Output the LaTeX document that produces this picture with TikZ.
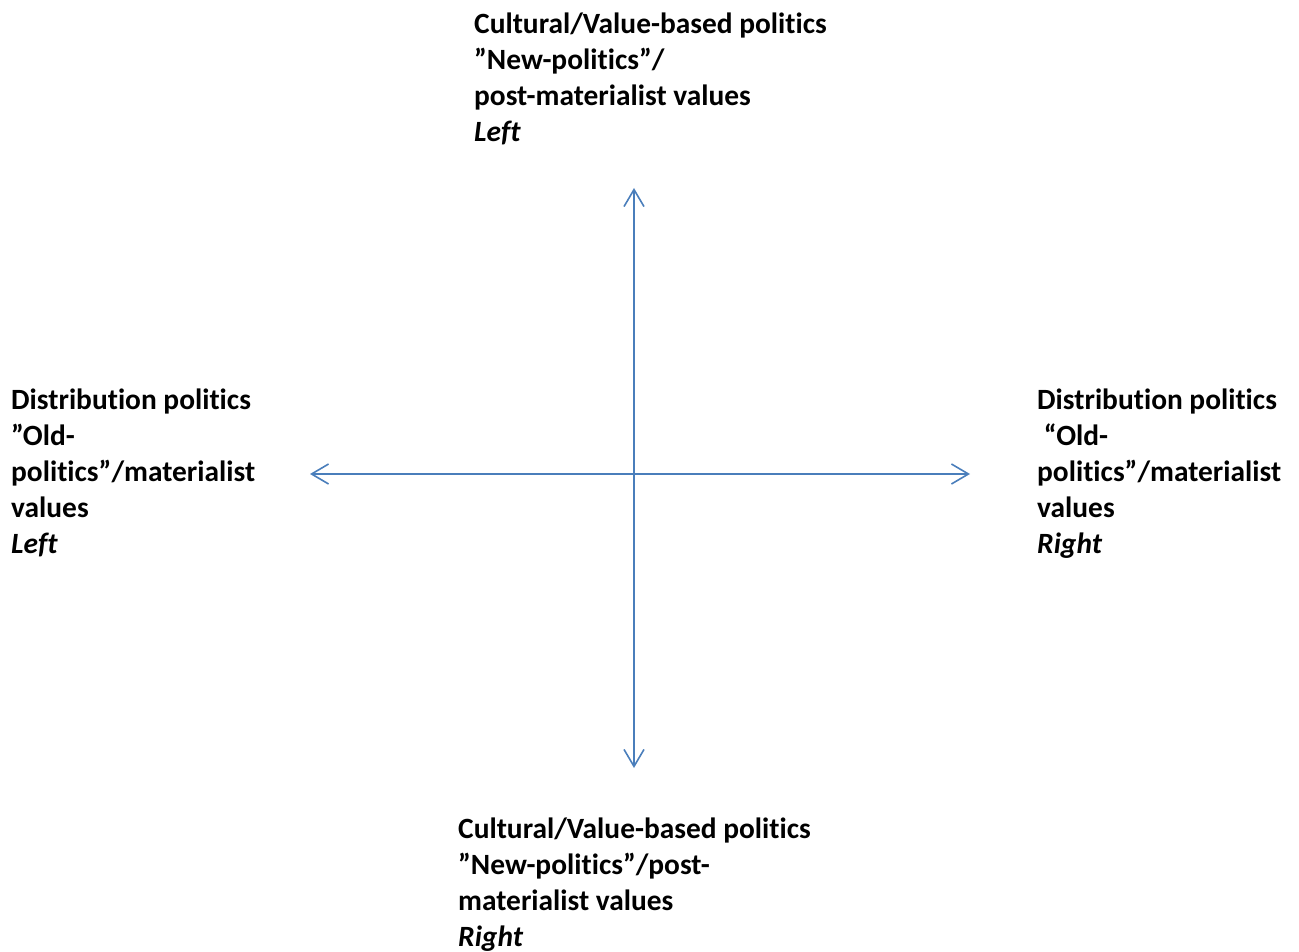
\documentclass[tikz,border=0pt]{standalone}
\usepackage{fontspec}
\setmainfont{Carlito}[Ligatures={NoCommon}]
\usetikzlibrary{arrows.meta}
\definecolor{axisblue}{HTML}{4A7EBB}
\begin{document}
\begin{tikzpicture}[x=1pt,y=-1pt,
  lbl/.style={anchor=base west, align=left, inner sep=0pt,
    font=\fontsize{29.4}{36}\selectfont\bfseries},
  axis/.style={draw=axisblue, line width=1.6pt,
    {Straight Barb[length=17pt,width=20pt,line width=1.6pt]}-{Straight Barb[length=17pt,width=20pt,line width=1.6pt]}}]
\useasboundingbox (0,0) rectangle (1299,952);
\coordinate (top) at (634,188);
\coordinate (bot) at (634,768);
\coordinate (lft) at (310,474);
\coordinate (rgt) at (970,474);
\draw[axis] (top) -- (bot);
\draw[axis] (lft) -- (rgt);
% anchor is the baseline of the last line
\node[lbl] (ttop) at (474,142) {Cultural/Value-based politics\\”New-politics”/\\post-materialist values\\\textit{Left}};
\node[lbl] (tbot) at (458,946) {Cultural/Value-based politics\\”New-politics”/post-\\materialist values\\\textit{Right}};
\node[lbl] (tlft) at (11,553) {Distribution politics\\”Old-\\politics”/materialist\\values\\\textit{Left}};
\node[lbl] (trgt) at (1037,553) {Distribution politics\\\hspace*{0.226em}“Old-\\politics”/materialist\\values\\\textit{Right}};
\end{tikzpicture}
\end{document}
